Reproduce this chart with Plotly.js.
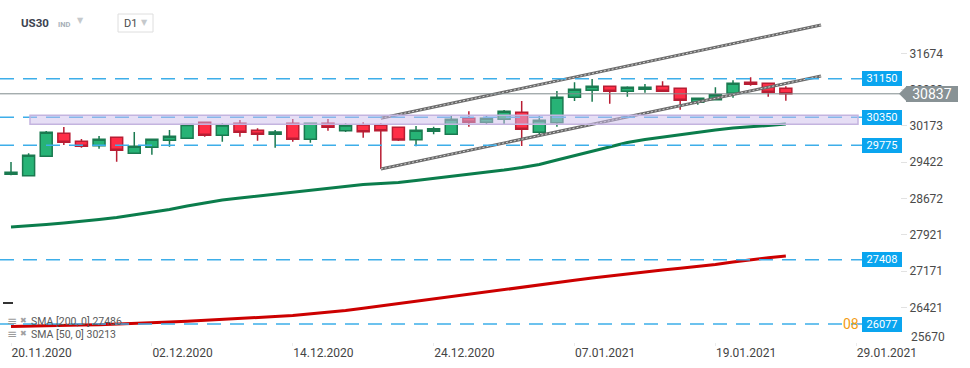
<!DOCTYPE html>
<html><head><meta charset="utf-8">
<script src="https://cdn.plot.ly/plotly-3.0.1.min.js"></script>
<style>html,body{margin:0;padding:0;background:#fff;overflow:hidden}#chart{width:970px;height:368px}</style>
</head><body><div id="chart"></div>
<script>
// ---- data ----
const dates = ['20.11.2020','23.11.2020','24.11.2020','25.11.2020','26.11.2020','27.11.2020','30.11.2020',
 '01.12.2020','02.12.2020','03.12.2020','04.12.2020','07.12.2020','08.12.2020','09.12.2020','10.12.2020','11.12.2020',
 '14.12.2020','15.12.2020','16.12.2020','17.12.2020','18.12.2020','21.12.2020','22.12.2020','23.12.2020','24.12.2020',
 '28.12.2020','29.12.2020','30.12.2020','31.12.2020','04.01.2021','05.01.2021','06.01.2021','07.01.2021','08.01.2021',
 '11.01.2021','12.01.2021','13.01.2021','14.01.2021','15.01.2021','18.01.2021','19.01.2021','20.01.2021','21.01.2021',
 '22.01.2021','25.01.2021'];
const futureDates = ['26.01.2021','27.01.2021','28.01.2021','29.01.2021','01.02.2021','02.02.2021'];
const openV  = [29173,29144,29545,30020,29855,29764,29938,29607,29731,29876,29917,30248,29979,30227,30083,30000,30227,29897,30227,30074,30192,30192,30144,29888,30062,30000,30331,30248,30310,30455,30041,30240,30765,30910,30992,30889,30930,30992,30951,30661,30715,30847,31075,31054,30951];
const highV  = [29427,29607,30068,30151,29903,29965,29945,30048,29900,30089,30210,30265,30227,30295,30124,30089,30316,30240,30316,30227,30248,30227,30150,30172,30157,30384,30475,30378,30502,30688,30378,30895,31075,31143,31000,30992,31040,31095,30960,30750,30971,31116,31178,31060,30992];
const lowV   = [29152,29140,29540,29779,29723,29702,29434,29600,29578,29743,29917,29950,29847,29950,29868,29723,29847,29826,30074,30048,29930,29283,29861,29752,30000,29995,30157,30213,30213,29758,29971,30157,30688,30674,30632,30777,30860,30885,30509,30612,30710,30757,31005,30777,30694];
const closeV = [29214,29566,30041,29834,29752,29897,29669,29752,29897,29959,30202,29979,30192,30041,30000,30048,29897,30227,30144,30192,30054,30074,29882,30083,30116,30310,30248,30331,30475,30103,30289,30765,30930,30992,30889,30971,30971,30889,30703,30744,30818,31054,31033,30868,30837];
const sma50  = [28084,28105,28136,28167,28198,28239,28280,28332,28384,28446,28518,28580,28642,28683,28725,28766,28807,28849,28890,28931,28962,28983,29004,29045,29086,29128,29169,29210,29262,29314,29376,29469,29562,29655,29748,29830,29892,29944,29996,30047,30089,30130,30151,30182,30213];
const sma200 = [26027,26038,26048,26052,26058,26064,26075,26089,26104,26120,26137,26153,26170,26189,26207,26232,26257,26286,26321,26358,26404,26451,26499,26548,26596,26645,26695,26745,26792,26838,26885,26933,26982,27030,27075,27117,27158,27195,27232,27268,27309,27360,27408,27447,27486];
const levels = [31150, 30350, 29775, 27408, 26077];
const zoneRange = [30207, 30393];
const currentPrice = 30837;
const trendDates = ['21.12.2020','27.01.2021'];
const upperTrend = [30331, 32260];
const lowerTrend = [29283, 31205];
const yTicks = [31674, 30923, 30173, 29422, 28672, 27921, 27171, 26421, 25670];
const xTickLabels = ['20.11.2020','02.12.2020','14.12.2020','24.12.2020','07.01.2021','19.01.2021','29.01.2021'];

// ---- layout helpers ----
const W=970,H=368,MR=70,MB=26;
const PW=W-MR, PH=H-MB;
const yTop=32776, yBot=25707;
const unitPerPx=(yTop-yBot)/PH;
const px=x=>x/PW, py=y=>1-y/PH;
const vy=v=>(yTop-v)/unitPerPx; // value -> pixel row
const allDates = dates.concat(futureDates);
const xi = d => allDates.indexOf(d);
const xIdx = dates.map(d=>xi(d));
const FONT='Roboto, "Open Sans", sans-serif';

const traces = [
 {type:'scatter',mode:'lines',x:xIdx,y:sma200,line:{color:'#cc0000',width:3},hoverinfo:'skip'},
 {type:'scatter',mode:'lines',x:xIdx,y:sma50,line:{color:'#0b7d4c',width:3},hoverinfo:'skip'},
 {type:'scatter',mode:'lines',x:trendDates.map(xi),y:upperTrend,line:{color:'#6a6a6a',width:3},hoverinfo:'skip'},
 {type:'scatter',mode:'lines',x:trendDates.map(xi),y:lowerTrend,line:{color:'#6a6a6a',width:3},hoverinfo:'skip'},
 {type:'scatter',mode:'lines',x:trendDates.map(xi),y:upperTrend,line:{color:'#cfcfcf',width:1,dash:'2px,2px'},hoverinfo:'skip'},
 {type:'scatter',mode:'lines',x:trendDates.map(xi),y:lowerTrend,line:{color:'#cfcfcf',width:1,dash:'2px,2px'},hoverinfo:'skip'},
 {type:'candlestick',x:xIdx,open:openV,high:highV,low:lowV,close:closeV,
  increasing:{line:{color:'#1a7a50',width:1.5},fillcolor:'#27b376'},
  decreasing:{line:{color:'#b81d33',width:1.5},fillcolor:'#ff2e47'},
  whiskerwidth:0,hoverinfo:'skip'}
];

const shapes = [];
levels.forEach(v=>{
  shapes.push({type:'line',xref:'paper',yref:'y',x0:0,x1:px(862),y0:v,y1:v,layer:'above',
    line:{color:'#3daee9',width:1.5,dash:'14px,9px'}});
});
shapes.push({type:'line',xref:'paper',yref:'y',x0:0,x1:1,y0:currentPrice,y1:currentPrice,layer:'above',
  line:{color:'#7f8a8c',width:1}});
shapes.push({type:'rect',xref:'paper',yref:'y',x0:px(30),x1:px(858),y0:zoneRange[0],y1:zoneRange[1],layer:'above',
  fillcolor:'rgba(205,190,235,0.5)',line:{color:'#c4b4df',width:1.5}});
// current price pointer tip
const cy = vy(currentPrice);
shapes.push({type:'path',xref:'paper',yref:'paper',layer:'above',fillcolor:'#889295',line:{width:0},
  path:`M ${px(899)},${py(cy)} L ${px(907)},${py(cy-8)} L ${px(907)},${py(cy+8)} Z`});
// D1 box
shapes.push({type:'rect',xref:'paper',yref:'paper',x0:px(118),x1:px(153),y0:py(32),y1:py(14),line:{color:'#dedede',width:1},fillcolor:'rgba(0,0,0,0)'});
// small black dash
shapes.push({type:'line',xref:'paper',yref:'paper',x0:px(3),x1:px(13),y0:py(303),y1:py(303),line:{color:'#333',width:2}});

const annotations = [];
const A = (o)=>annotations.push(Object.assign({showarrow:false,xanchor:'left',yanchor:'middle'},o));
levels.forEach(v=>{
  A({xref:'paper',yref:'y',x:px(882),xanchor:'center',y:v,text:String(v),
    bgcolor:'#0aa5ef',bordercolor:'#0aa5ef',borderwidth:1,borderpad:1,width:36,height:11,
    font:{family:FONT,size:11,color:'#ffffff'}});
});
A({xref:'paper',yref:'y',x:px(932),xanchor:'center',y:currentPrice,text:String(currentPrice),
  bgcolor:'#889295',bordercolor:'#889295',borderwidth:1,borderpad:0,width:50,height:14,
  font:{family:FONT,size:14,color:'#ffffff'}});
A({xref:'paper',yref:'paper',x:px(861),xanchor:'right',y:py(324),text:'08',font:{family:FONT,size:14,color:'#f39c12'}});
A({xref:'paper',yref:'paper',x:px(909),y:py(337),text:String(yTicks[yTicks.length-1]),font:{family:FONT,size:12,color:'#4a4a4a'}});
// header
A({xref:'paper',yref:'paper',x:px(19),y:py(23),text:'<b>US30</b>',font:{family:FONT,size:11.5,color:'#3c4350'}});
A({xref:'paper',yref:'paper',x:px(56),y:py(24),text:'<b>IND</b>',font:{family:FONT,size:7.5,color:'#a8b0b8'}});
A({xref:'paper',yref:'paper',x:px(75),y:py(21),text:'▼',font:{family:'DejaVu Sans',size:8,color:'#c5c9cc'}});
A({xref:'paper',yref:'paper',x:px(122),y:py(23),text:'D1',font:{family:FONT,size:11,color:'#4a4a4a'}});
A({xref:'paper',yref:'paper',x:px(139),y:py(22),text:'▼',font:{family:'DejaVu Sans',size:8,color:'#c5c9cc'}});
// indicator legend
[[321,'SMA [200, 0] '+sma200[sma200.length-1]],[334,'SMA [50, 0] '+sma50[sma50.length-1]]].forEach(([y,t])=>{
  A({xref:'paper',yref:'paper',x:px(5),y:py(y),text:'≡',font:{family:'DejaVu Sans',size:12,color:'#9a9a9a'}});
  A({xref:'paper',yref:'paper',x:px(18),y:py(y-1),text:'✖',font:{family:'DejaVu Sans',size:8,color:'#a0a0a0'}});
  A({xref:'paper',yref:'paper',x:px(29),y:py(y),text:t,font:{family:FONT,size:10.5,color:'#5a5a5a'}});
});

const layout = {
  width:W,height:H,margin:{l:0,r:MR,t:0,b:MB,pad:0},
  paper_bgcolor:'#ffffff',plot_bgcolor:'#ffffff',showlegend:false,hovermode:false,
  boxgap:0.15,boxgroupgap:0.2,
  font:{family:FONT,color:'#444'},
  xaxis:{range:[(0-11)/17.61,(PW-11)/17.61],showgrid:false,zeroline:false,showline:false,
    ticks:'outside',ticklen:3,tickcolor:'#ececec',ticklabelposition:'outside right',
    rangeslider:{visible:false},tickmode:'array',tickvals:xTickLabels.map(xi),ticktext:xTickLabels,
    tickfont:{family:FONT,size:12,color:'#444'}},
  yaxis:{range:[yBot,yTop],side:'right',showgrid:false,zeroline:false,showline:false,
    ticks:'outside',ticklen:6,tickcolor:'#e2e2e2',tickmode:'array',tickvals:yTicks,ticktext:yTicks.map(String),
    tickfont:{family:FONT,size:12,color:'#4a4a4a'}},
  shapes:shapes,annotations:annotations
};
Plotly.newPlot('chart',traces,layout,{staticPlot:true,displayModeBar:false});
</script></body></html>
